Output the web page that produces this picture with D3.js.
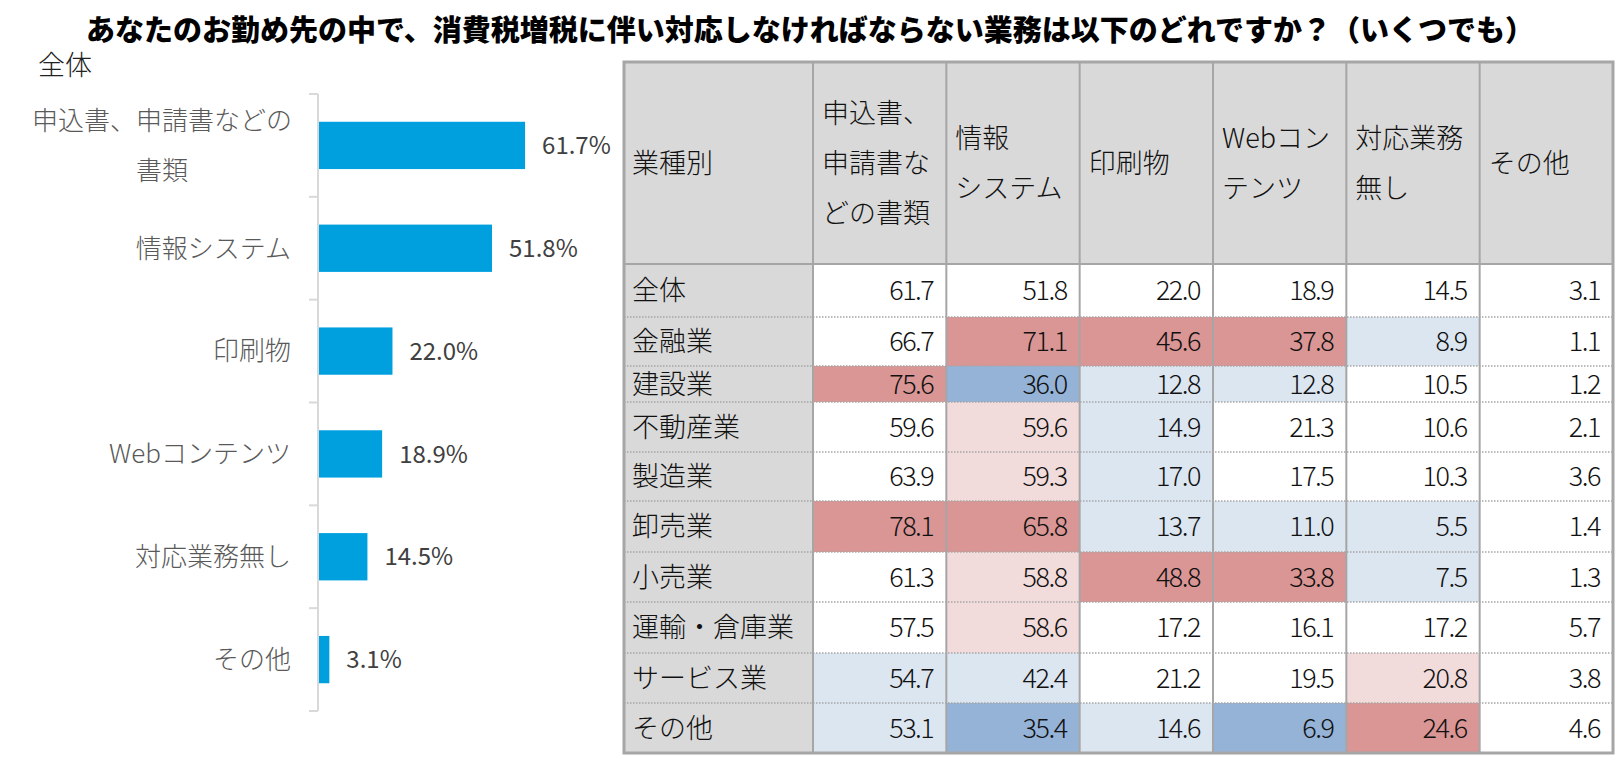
<html>

<head>
  <meta charset="UTF-8">
  <title>消費税増税に伴う対応業務</title>
  <script src="https://cdnjs.cloudflare.com/ajax/libs/d3/7.8.5/d3.min.js"></script>
  <style>
    body { margin: 0; background: #fff; }
    svg text { font-family: "Noto Sans CJK JP", "Noto Sans", sans-serif; }
  </style>
</head>

<body>
  <svg id="chart" width="1623" height="766"></svg>
  <script>
  //-----------------------------------------
  // data
  const title = "あなたのお勤め先の中で、消費税増税に伴い対応しなければならない業務は以下のどれですか？（いくつでも）";
  const panelLabel = "全体";
  const items = ["申込書、申請書などの書類", "情報システム", "印刷物", "Webコンテンツ", "対応業務無し", "その他"];
  const itemLabelLines = [["申込書、申請書などの", "書類"], ["情報システム"], ["印刷物"], ["Webコンテンツ"], ["対応業務無し"], ["その他"]];
  const totalValues = [61.7, 51.8, 22.0, 18.9, 14.5, 3.1];

  const cornerLabel = "業種別";
  const headerLines = [["申込書、", "申請書な", "どの書類"], ["情報", "システム"], ["印刷物"], ["Webコン", "テンツ"], ["対応業務", "無し"], ["その他"]];
  const industries = ["全体", "金融業", "建設業", "不動産業", "製造業", "卸売業", "小売業", "運輸・倉庫業", "サービス業", "その他"];
  const tableValues = [
    [61.7, 51.8, 22.0, 18.9, 14.5, 3.1],
    [66.7, 71.1, 45.6, 37.8, 8.9, 1.1],
    [75.6, 36.0, 12.8, 12.8, 10.5, 1.2],
    [59.6, 59.6, 14.9, 21.3, 10.6, 2.1],
    [63.9, 59.3, 17.0, 17.5, 10.3, 3.6],
    [78.1, 65.8, 13.7, 11.0, 5.5, 1.4],
    [61.3, 58.8, 48.8, 33.8, 7.5, 1.3],
    [57.5, 58.6, 17.2, 16.1, 17.2, 5.7],
    [54.7, 42.4, 21.2, 19.5, 20.8, 3.8],
    [53.1, 35.4, 14.6, 6.9, 24.6, 4.6]
  ];
  // highlight: 2 = much higher, 1 = higher, -1 = lower, -2 = much lower than 全体
  const tableLevels = [
    [0, 0, 0, 0, 0, 0],
    [0, 2, 2, 2, -1, 0],
    [2, -2, -1, -1, 0, 0],
    [0, 1, -1, 0, 0, 0],
    [0, 1, -1, 0, 0, 0],
    [2, 2, -1, -1, -1, 0],
    [0, 1, 2, 2, -1, 0],
    [0, 1, 0, 0, 0, 0],
    [-1, -1, 0, 0, 1, 0],
    [-1, -2, -1, -2, 2, 0]
  ];

  //-----------------------------------------
  // layout
  const svg = d3.select("#chart");
  const fmt = d3.format(".1f");
  const levelColor = d3.scaleOrdinal()
    .domain([2, 1, 0, -1, -2])
    .range(["#da9694", "#f2dcdb", "#ffffff", "#dce6f1", "#95b3d7"]);

  svg.append("text")
    .attr("x", 810).attr("y", 41)
    .attr("text-anchor", "middle")
    .style("font-size", "29px").style("font-weight", 900)
    .attr("fill", "#000")
    .text(title);

  //-----------------------------------------
  // bar chart (全体)
  svg.append("text")
    .attr("x", 38).attr("y", 75)
    .style("font-size", "27px").style("font-weight", 300)
    .attr("fill", "#222")
    .text(panelLabel);

  const y = d3.scaleBand().domain(items).range([94, 711])
    .paddingInner(0.54).paddingOuter(0.27);
  const x = d3.scaleLinear().domain([0, 100]).range([319, 653]);
  const step = y.step();
  const axisTop = y(items[0]) - step * y.paddingOuter();

  svg.append("g").selectAll("rect")
    .data(items).enter()
    .append("rect")
    .attr("x", x(0))
    .attr("y", d => y(d))
    .attr("width", (d, i) => x(totalValues[i]) - x(0))
    .attr("height", y.bandwidth())
    .attr("fill", "#00a0df");

  svg.append("g").selectAll("text")
    .data(items).enter()
    .append("text")
    .attr("x", (d, i) => x(totalValues[i]) + 17)
    .attr("y", d => y(d) + y.bandwidth() / 2)
    .attr("dy", "0.36em")
    .style("font-size", "24px")
    .attr("fill", "#404040")
    .text((d, i) => fmt(totalValues[i]) + "%");

  // category axis
  const axis = svg.append("g");
  axis.append("line")
    .attr("x1", 318).attr("x2", 318)
    .attr("y1", axisTop).attr("y2", axisTop + step * items.length)
    .attr("stroke", "#d9d9d9").attr("stroke-width", 2);
  axis.selectAll(".tick")
    .data(d3.range(items.length + 1)).enter()
    .append("line")
    .attr("x1", 309).attr("x2", 318)
    .attr("y1", i => axisTop + i * step).attr("y2", i => axisTop + i * step)
    .attr("stroke", "#d9d9d9").attr("stroke-width", 2);

  items.forEach(function (d, i) {
    const lines = itemLabelLines[i];
    const cy = y(d) + y.bandwidth() / 2;
    const t = axis.append("text")
      .attr("y", cy - (lines.length - 1) * 25)
      .style("font-size", "26px").style("font-weight", 300)
      .attr("fill", "#595959");
    if (lines.length > 1) {
      // wrapped label: lines centred on each other
      t.attr("x", 162).attr("text-anchor", "middle");
    } else {
      t.attr("x", 291).attr("text-anchor", "end");
    }
    lines.forEach(function (l, j) {
      t.append("tspan").attr("x", t.attr("x")).attr("dy", j === 0 ? "0.36em" : 50).text(l);
    });
  });

  //-----------------------------------------
  // table by industry
  const tableLeft = 624, tableRight = 1613, tableTop = 62;
  const firstColRight = 813;
  const rowHeights = [202, 53, 49, 36, 50, 49, 51, 50, 51, 50, 50];
  const rowEdges = [tableTop].concat(Array.from(d3.cumsum(rowHeights), v => tableTop + v));
  const tableBottom = rowEdges[rowEdges.length - 1];
  const col = d3.scaleBand().domain(d3.range(headerLines.length)).range([firstColRight, tableRight]);

  const table = svg.append("g");

  table.append("rect")
    .attr("x", tableLeft).attr("y", tableTop)
    .attr("width", tableRight - tableLeft).attr("height", rowHeights[0])
    .attr("fill", "#d9d9d9");

  industries.forEach(function (name, r) {
    const top = rowEdges[r + 1], h = rowHeights[r + 1];
    const row = table.append("g");
    row.append("rect")
      .attr("x", tableLeft).attr("y", top)
      .attr("width", firstColRight - tableLeft).attr("height", h)
      .attr("fill", "#d9d9d9");
    row.selectAll("rect.cell")
      .data(tableValues[r]).enter()
      .append("rect")
      .attr("class", "cell")
      .attr("x", (d, c) => col(c)).attr("y", top)
      .attr("width", col.bandwidth()).attr("height", h)
      .attr("fill", (d, c) => levelColor(tableLevels[r][c]));
    row.append("text")
      .attr("x", tableLeft + 8).attr("y", top + h / 2)
      .attr("dy", "0.36em")
      .style("font-size", "27px").style("font-weight", 300)
      .attr("fill", "#111")
      .text(name);
    row.selectAll("text.num")
      .data(tableValues[r]).enter()
      .append("text")
      .attr("class", "num")
      .attr("x", (d, c) => col(c) + col.bandwidth() - 13)
      .attr("y", top + h / 2)
      .attr("dy", "0.36em")
      .attr("text-anchor", "end")
      .style("font-size", "27px").style("font-weight", 300)
      .style("letter-spacing", "-1.5px")
      .attr("fill", "#111")
      .text(d => fmt(d));
  });

  // header texts
  const headerMid = tableTop + rowHeights[0] / 2;
  table.append("text")
    .attr("x", tableLeft + 8).attr("y", headerMid)
    .attr("dy", "0.36em")
    .style("font-size", "27px").style("font-weight", 300)
    .attr("fill", "#111")
    .text(cornerLabel);
  headerLines.forEach(function (lines, c) {
    const t = table.append("text")
      .attr("y", headerMid - (lines.length - 1) * 25)
      .style("font-size", "27px").style("font-weight", 300)
      .attr("fill", "#111");
    lines.forEach(function (l, j) {
      t.append("tspan").attr("x", col(c) + 9).attr("dy", j === 0 ? "0.36em" : 50).text(l);
    });
  });

  // grid lines
  table.selectAll("line.row")
    .data(rowEdges.slice(2, -1)).enter()
    .append("line")
    .attr("x1", tableLeft).attr("x2", tableRight)
    .attr("y1", d => d).attr("y2", d => d)
    .attr("stroke", "#a6a6a6").attr("stroke-width", 1.5)
    .attr("stroke-dasharray", "1.5,1.5");
  table.append("line")
    .attr("x1", tableLeft).attr("x2", tableRight)
    .attr("y1", rowEdges[1]).attr("y2", rowEdges[1])
    .attr("stroke", "#a6a6a6").attr("stroke-width", 2);
  table.selectAll("line.col")
    .data([firstColRight].concat(d3.range(1, headerLines.length).map(c => col(c)))).enter()
    .append("line")
    .attr("x1", d => d).attr("x2", d => d)
    .attr("y1", tableTop).attr("y2", tableBottom)
    .attr("stroke", "#a6a6a6").attr("stroke-width", 2);
  table.append("rect")
    .attr("x", tableLeft).attr("y", tableTop)
    .attr("width", tableRight - tableLeft).attr("height", tableBottom - tableTop)
    .attr("fill", "none")
    .attr("stroke", "#a6a6a6").attr("stroke-width", 3);
  </script>
</body>

</html>
